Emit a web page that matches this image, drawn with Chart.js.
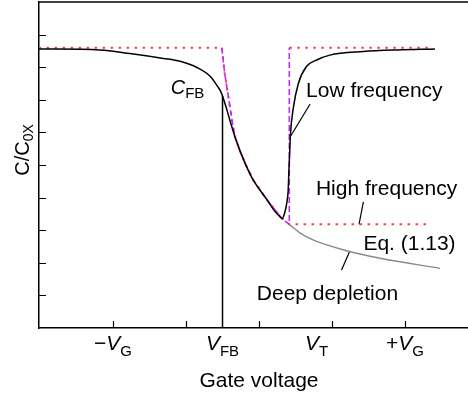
<!DOCTYPE html>
<html>
<head>
<meta charset="utf-8">
<script src="https://cdn.jsdelivr.net/npm/chart.js@4.4.0/dist/chart.umd.min.js"></script>
<style>
  html, body { margin: 0; padding: 0; background: #fff; }
  #wrap { width: 468px; height: 395px; }
</style>
</head>
<body>
<div id="wrap"><canvas id="cvChart"></canvas></div>
<script>
// Values are in tick units: x = gate voltage ticks, y = C/C0x ticks
const xTicks = [1, 2, 3, 4, 5];
const yTicks = [1, 2, 3, 4, 5, 6, 7, 8, 9];

// tick labels under the x axis: [prefix, italic symbol, subscript, x value]
const xTickLabels = [
  ['\u2212', 'V', 'G', 1],
  ['', 'V', 'FB', 2.5],
  ['', 'V', 'T', 3.79],
  ['+', 'V', 'G', 5]
];

// low frequency C-V curve (black)
const lowFrequency = [
  [-0.02, 8.56], [0.82, 8.53], [1.23, 8.42], [1.69, 8.27], [1.92, 8.18],
  [2.15, 7.99], [2.33, 7.72], [2.43, 7.42], [2.47, 7.28], [2.50, 7.12],
  [2.56, 6.69], [2.60, 6.38], [2.67, 5.87], [2.81, 5.05], [2.92, 4.54],
  [3.11, 3.93], [3.22, 3.57], [3.29, 3.41], [3.32, 3.36], [3.35, 3.52],
  [3.38, 3.83], [3.40, 4.23], [3.41, 4.85], [3.42, 5.37], [3.43, 5.92],
  [3.47, 6.75], [3.54, 7.51], [3.65, 8.02], [3.79, 8.22], [3.97, 8.37],
  [4.43, 8.48], [4.89, 8.53], [5.41, 8.56]
];

// ideal high frequency curve (red dotted)
const highFrequency = [
  [-0.02, 8.6], [2.49, 8.6], [2.53, 7.81], [2.58, 7.10], [2.63, 6.38],
  [2.67, 5.87], [2.74, 5.42], [2.81, 5.05], [2.92, 4.54], [3.11, 3.93],
  [3.31, 3.37], [3.415, 3.18], [5.34, 3.18]
];
const accumulationTop = [[3.415, 8.6], [5.38, 8.6]];

// ideal low frequency approximation (magenta dashed)
const idealLow = [
  [2.49, 8.6], [2.53, 7.81], [2.58, 7.10], [2.63, 6.38], [2.67, 5.87],
  [2.74, 5.42], [2.81, 5.05], [2.92, 4.54], [3.11, 3.93], [3.31, 3.37],
  [3.415, 3.18], [3.415, 8.6]
];

// deep depletion, Eq. (1.13) (gray)
const deepDepletion = [
  [3.415, 3.18], [3.56, 2.92], [3.74, 2.70], [4.20, 2.37], [4.66, 2.14], [5.48, 1.83]
];

// flat band marker
const flatBand = [[2.5, 7.12], [2.5, 0]];

// leader lines for the labels
const lowLeader = [[3.70, 6.87], [3.434, 5.89]];
const highLeader = [[4.43, 3.87], [4.37, 3.18]];
const deepLeader = [[4.24, 2.34], [4.13, 1.78]];

const FONT = '"Liberation Sans", Arial, Helvetica, sans-serif';

function pts(arr) {
  return arr.map(p => ({ x: p[0], y: p[1] }));
}

function lineSet(arr, color, width, extra) {
  return Object.assign({
    data: pts(arr),
    borderColor: color,
    borderWidth: width,
    pointRadius: 0,
    fill: false,
    tension: 0
  }, extra || {});
}

// draw a run of text pieces: [text, size, italic, baseline shift]
function drawRich(ctx, parts, x, y, align) {
  let w = 0;
  parts.forEach(p => {
    ctx.font = (p[2] ? 'italic ' : '') + p[1] + 'px ' + FONT;
    w += ctx.measureText(p[0]).width;
  });
  let cx = align === 'center' ? x - w / 2 : x;
  ctx.textAlign = 'left';
  ctx.textBaseline = 'alphabetic';
  parts.forEach(p => {
    ctx.font = (p[2] ? 'italic ' : '') + p[1] + 'px ' + FONT;
    ctx.fillText(p[0], cx, y + p[3]);
    cx += ctx.measureText(p[0]).width;
  });
}

const decorPlugin = {
  id: 'decor',
  afterDraw(chart) {
    const ctx = chart.ctx;
    const a = chart.chartArea;
    const xs = chart.scales.x;
    const ys = chart.scales.y;
    ctx.save();
    ctx.strokeStyle = '#000';
    ctx.fillStyle = '#000';

    // top frame line
    ctx.lineWidth = 1.5;
    ctx.beginPath();
    ctx.moveTo(a.left, a.top);
    ctx.lineTo(a.right, a.top);
    ctx.stroke();

    // inward tick marks
    ctx.lineWidth = 1.2;
    ctx.beginPath();
    xTicks.forEach(v => {
      const px = Math.round(xs.getPixelForValue(v)) + 0.5;
      ctx.moveTo(px, a.bottom);
      ctx.lineTo(px, a.bottom - 7);
    });
    yTicks.forEach(v => {
      const py = Math.round(ys.getPixelForValue(v)) + 0.5;
      ctx.moveTo(a.left, py);
      ctx.lineTo(a.left + 7, py);
    });
    ctx.stroke();

    // x tick labels
    xTickLabels.forEach(l => {
      const parts = [];
      if (l[0]) parts.push([l[0], 21, false, 0]);
      parts.push([l[1], 21, true, 0]);
      parts.push([l[2], 15, false, 6]);
      drawRich(ctx, parts, xs.getPixelForValue(l[3]), a.bottom + 22, 'center');
    });

    // x axis title
    drawRich(ctx, [['Gate voltage', 21, false, 0]], xs.getPixelForValue(3), a.bottom + 59, 'center');

    // y axis title
    ctx.save();
    ctx.translate(29, 150);
    ctx.rotate(-Math.PI / 2);
    drawRich(ctx, [['C/C', 20, false, 0], ['0X', 14, false, 4]], 0, 0, 'center');
    ctx.restore();

    // curve labels
    drawRich(ctx, [['C', 20, true, 0], ['FB', 15, false, 4]], xs.getPixelForValue(1.79), ys.getPixelForValue(7.18), 'left');
    drawRich(ctx, [['Low frequency', 21, false, 0]], xs.getPixelForValue(3.644), ys.getPixelForValue(7.09), 'left');
    drawRich(ctx, [['High frequency', 21, false, 0]], xs.getPixelForValue(3.78), ys.getPixelForValue(4.08), 'left');
    drawRich(ctx, [['Eq. (1.13)', 21, false, 0]], xs.getPixelForValue(4.43), ys.getPixelForValue(2.39), 'left');
    drawRich(ctx, [['Deep depletion', 21, false, 0]], xs.getPixelForValue(2.97), ys.getPixelForValue(0.86), 'left');
    ctx.restore();
  }
};

const ctx = document.getElementById('cvChart').getContext('2d');
const chart = new Chart(ctx, {
  type: 'line',
  data: {
    datasets: [
      lineSet(deepDepletion, '#8a8a8a', 1.4, { cubicInterpolationMode: 'monotone' }),
      lineSet(flatBand, '#000', 1.5),
      lineSet(lowFrequency, '#000', 1.5, { cubicInterpolationMode: 'monotone' }),
      lineSet(idealLow, '#c227ff', 1.6, { borderDash: [6, 3] }),
      lineSet(highFrequency, '#ff3d3d', 2, { borderDash: [2.5, 5.5] }),
      lineSet(accumulationTop, '#ff3d3d', 2, { borderDash: [2.5, 5.5] }),
      lineSet(lowLeader, '#000', 1.2),
      lineSet(highLeader, '#000', 1.2),
      lineSet(deepLeader, '#000', 1.2)
    ]
  },
  options: {
    responsive: true,
    maintainAspectRatio: false,
    animation: false,
    layout: { padding: { left: 39, right: 0, top: 2, bottom: 67 } },
    plugins: {
      legend: { display: false },
      tooltip: { enabled: false }
    },
    scales: {
      x: {
        type: 'linear',
        min: -0.014,
        max: 5.863,
        grid: { display: false, drawTicks: false },
        ticks: { display: false },
        border: { display: true, color: '#000', width: 1.5 }
      },
      y: {
        type: 'linear',
        min: 0,
        max: 10,
        grid: { display: false, drawTicks: false },
        ticks: { display: false },
        border: { display: true, color: '#000', width: 1.5 }
      }
    }
  },
  plugins: [decorPlugin]
});
</script>
</body>
</html>
